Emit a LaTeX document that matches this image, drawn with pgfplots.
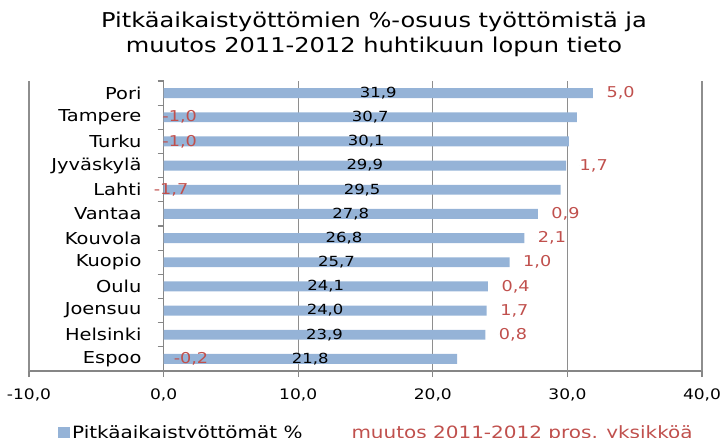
\documentclass[border=0pt]{standalone}
\usepackage{fontspec}
\setmainfont{DejaVu Sans}[FakeStretch=1.18]
\usepackage{pgfplots}
\usepackage{pgfplotstable}
\pgfplotsset{compat=1.18}
\definecolor{barblue}{HTML}{95B3D7}
\definecolor{chred}{HTML}{C0504D}
\definecolor{gridline}{HTML}{8E8E8E}
\definecolor{axisgray}{HTML}{868686}

% idx 0 = Espoo (bottom) ... 11 = Pori (top); lbx = where the red label starts
\pgfplotstableread{
idx val muutos lbx
11 31.9  5.0 32.9
10 30.7 -1.0 -0.1
9  30.1 -1.0 -0.1
8  29.9  1.7 30.9
7  29.5 -1.7 -0.74
6  27.8  0.9 28.8
5  26.8  2.1 27.8
4  25.7  1.0 26.7
3  24.1  0.4 25.1
2  24.0  1.7 25.0
1  23.9  0.8 24.9
0  21.8 -0.2 0.74
}\kaupungit

\begin{document}
\begin{tikzpicture}
\begin{axis}[
 at={(29bp,67bp)},anchor=south west,
 scale only axis,width=673bp,height=290bp,
 xmin=-10,xmax=40,ymin=-0.5,ymax=11.5,
 clip=false,
 axis x line=bottom,axis y line=center,
 hide obscured x ticks=false,
 axis line style={-,draw=axisgray,line width=1.3bp},
 tick align=outside,major tick length=6bp,minor tick length=6bp,
 tick style={draw=axisgray,line width=1.3bp},
 xtick={-10,0,10,20,30,40},
 xmajorgrids=true,
 grid style={draw=gridline,line width=1.3bp},
 ytick={0,...,11},
 yticklabels={Espoo,Helsinki,Joensuu,Oulu,Kuopio,Kouvola,Vantaa,Lahti,Jyväskylä,Turku,Tampere,Pori},
 minor ytick={-0.5,0.5,...,11.5},
 major y tick style={draw=none},
 xticklabel style={font=\fontsize{14.5}{17}\selectfont,yshift=-8bp},
 yticklabel style={font=\fontsize{16.5}{19}\selectfont,inner sep=0pt,xshift=-16bp},
 /pgf/number format/.cd,fixed,fixed zerofill,precision=1,use comma,assume math mode=true,
 /pgfplots/.cd,
 title={Pitkäaikaistyöttömien \%-osuus työttömistä ja\\muutos 2011-2012 huhtikuun lopun tieto},
 title style={at={(0.5126,1.219)},anchor=north,align=center,inner sep=0pt,
   font=\fontsize{20.5}{25}\selectfont},
 legend columns=2,
 legend style={at={(0.0386,-0.214)},anchor=west,draw=none,fill=none,
   font=\fontsize{17}{20}\selectfont,
   /tikz/every even column/.append style={column sep=45bp}},
]
% vertical gridlines behind the bars
\addplot[forget plot,draw=gridline,line width=1.3bp,mark=none] coordinates {(-10,-0.5) (-10,11.5)};
\addplot[forget plot,draw=gridline,line width=1.3bp,mark=none] coordinates {(10,-0.5) (10,11.5)};
\addplot[forget plot,draw=gridline,line width=1.3bp,mark=none] coordinates {(20,-0.5) (20,11.5)};
\addplot[forget plot,draw=gridline,line width=1.3bp,mark=none] coordinates {(30,-0.5) (30,11.5)};
\addplot[forget plot,draw=gridline,line width=1.3bp,mark=none] coordinates {(40,-0.5) (40,11.5)};
\addplot[xbar,bar width=0.41,fill=barblue,draw=none,
  legend image code/.code={\fill[barblue] (1bp,-6bp) rectangle (13bp,6bp);}]
  table[x=val,y=idx] {\kaupungit};
\addlegendentry{Pitkäaikaistyöttömät \%}
\addplot[forget plot,only marks,mark=*,mark size=0pt,mark options={draw=none,fill=none},
  nodes near coords,point meta=explicit,
  every node near coord/.style={anchor=center,inner sep=0pt,text=black,
    font=\fontsize{14}{16}\selectfont}]
  table[x expr=\thisrow{val}/2,y=idx,meta=val] {\kaupungit};
\addplot[only marks,mark=*,mark size=0pt,mark options={draw=none,fill=none},
  nodes near coords,point meta=explicit,
  every node near coord/.style={anchor=west,inner sep=0pt,text=chred,
    font=\fontsize{15}{17}\selectfont},
  legend image code/.code={}]
  table[x=lbx,y=idx,meta=muutos] {\kaupungit};
\addlegendentry{\textcolor{chred}{muutos 2011-2012 pros. yksikköä}}
\end{axis}
\pgfresetboundingbox
\path (0,0) rectangle (722bp,438bp);
\end{tikzpicture}
\end{document}
